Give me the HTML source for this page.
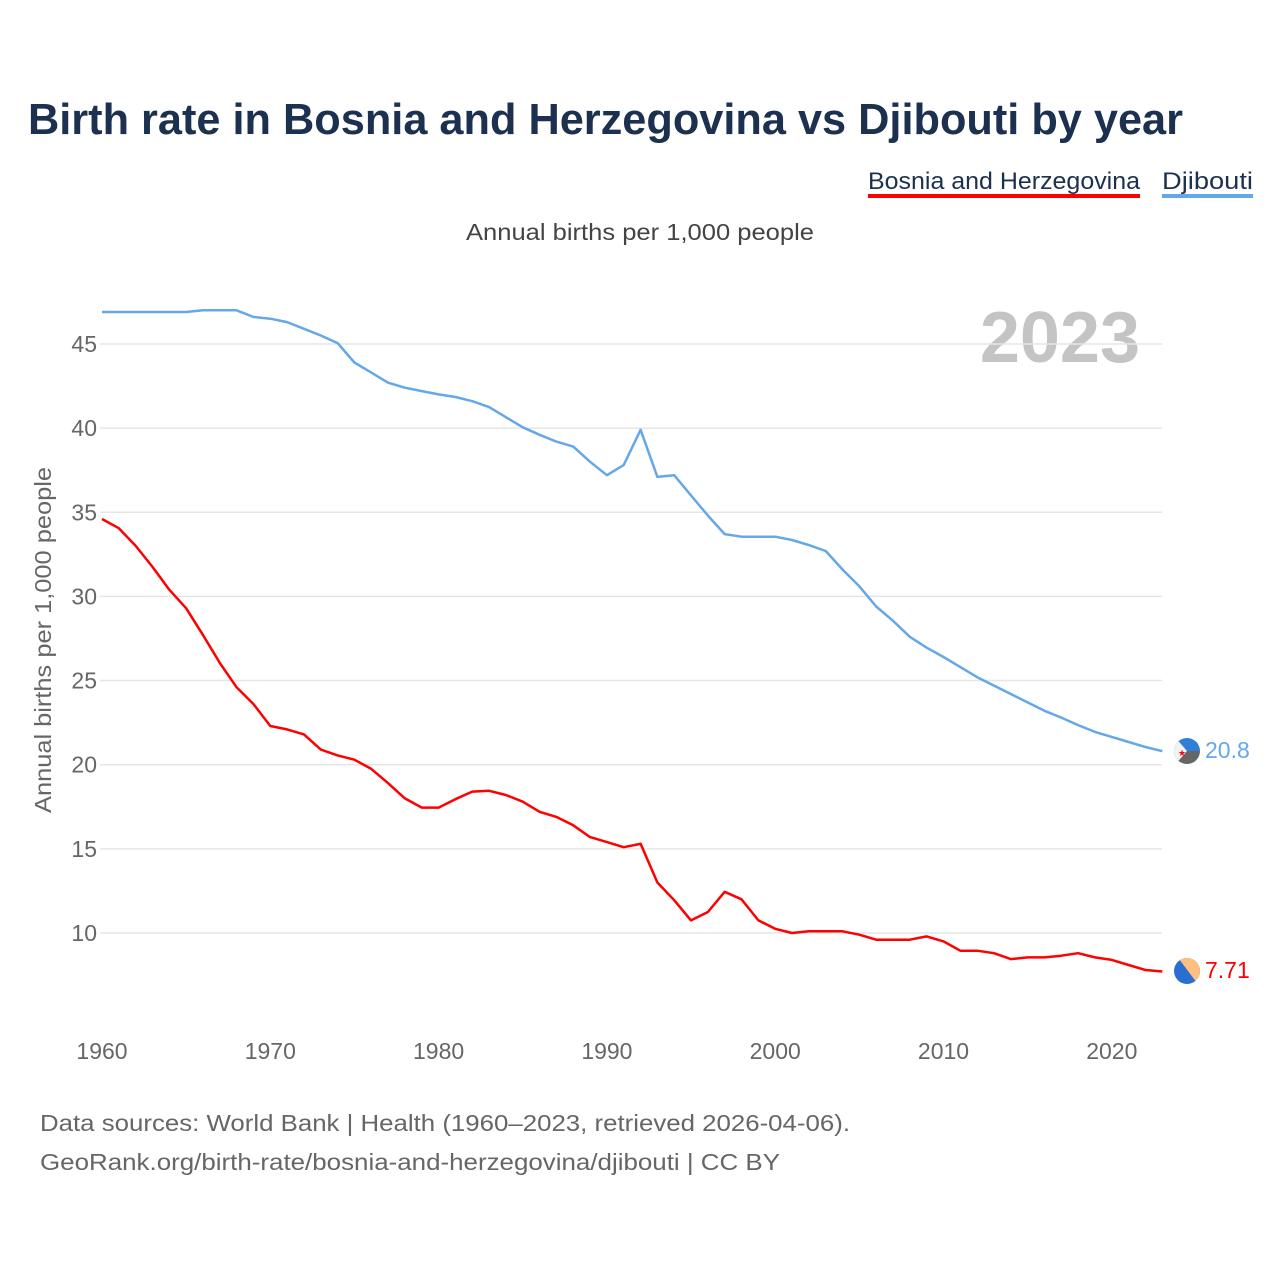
<!DOCTYPE html>
<html><head><meta charset="utf-8"><style>
html,body{margin:0;padding:0;background:#fff;}
svg{display:block;font-family:"Liberation Sans",sans-serif;}
</style></head><body>
<svg id="chart" width="1280" height="1280" viewBox="0 0 1280 1280">
<text x="28" y="134" font-size="44" font-weight="bold" fill="#1c3150" textLength="1155" lengthAdjust="spacingAndGlyphs">Birth rate in Bosnia and Herzegovina vs Djibouti by year</text>
<g>
<g>
<text x="868" y="189" font-size="24" fill="#1c3150" textLength="272" lengthAdjust="spacingAndGlyphs">Bosnia and Herzegovina</text>
<rect x="868" y="194" width="272" height="4" fill="#ff0000"/></g>
<g>
<text x="1162" y="189" font-size="24" fill="#1c3150" textLength="91" lengthAdjust="spacingAndGlyphs">Djibouti</text>
<rect x="1162" y="194" width="91" height="4" fill="#64a8e8"/></g>
</g>
<text x="466" y="240" font-size="23" fill="#444" textLength="348" lengthAdjust="spacingAndGlyphs">Annual births per 1,000 people</text>
<text x="1140" y="362" font-size="72" font-weight="bold" fill="#c4c4c4" text-anchor="end">2023</text>
<text transform="translate(51,640) rotate(-90)" font-size="23" fill="#666" text-anchor="middle" textLength="346" lengthAdjust="spacingAndGlyphs">Annual births per 1,000 people</text>
<g id="grid"></g><g id="yticks"></g><g id="xticks"></g><g id="lines"></g>
<g>
<clipPath id="cd"><circle cx="1187" cy="751" r="13"/></clipPath>
<g clip-path="url(#cd)"><rect x="1170" y="735" width="40" height="16" fill="#2f7fd8"/><rect x="1170" y="751" width="40" height="16" fill="#666"/><polygon points="1174,736 1187,751 1174,766" fill="#f2f2f2"/></g>
<text x="1178" y="756" font-size="9" fill="red">★</text></g>
<text x="1205" y="758" font-size="23" fill="#64a8e8">20.8</text>
<g>
<clipPath id="cb"><circle cx="1187" cy="971" r="13"/></clipPath>
<g clip-path="url(#cb)"><rect x="1170" y="955" width="40" height="32" fill="#2a6fd0"/><polygon points="1176,955 1200,955 1200,987" fill="#ffbf80"/></g></g>
<text x="1205" y="978" font-size="23" fill="#ff0000">7.71</text>
<text x="40" y="1131" font-size="23" fill="#666" textLength="810" lengthAdjust="spacingAndGlyphs">Data sources: World Bank | Health (1960–2023, retrieved 2026-04-06).</text>
<text x="40" y="1170" font-size="23" fill="#666" textLength="740" lengthAdjust="spacingAndGlyphs">GeoRank.org/birth-rate/bosnia-and-herzegovina/djibouti | CC BY</text>
</svg>
<script>
const years=[];for(let y=1960;y<=2023;y++)years.push(y);
const djibouti=[46.9,46.9,46.9,46.9,46.9,46.9,47.0,47.0,47.0,46.6,46.5,46.3,45.9,45.5,45.05,43.9,43.3,42.7,42.4,42.2,42.0,41.85,41.6,41.25,40.65,40.05,39.6,39.2,38.9,38.0,37.2,37.8,39.9,37.1,37.2,36.0,34.8,33.7,33.55,33.55,33.55,33.35,33.05,32.7,31.6,30.6,29.4,28.55,27.6,26.95,26.4,25.8,25.2,24.7,24.2,23.7,23.2,22.8,22.35,21.95,21.65,21.35,21.05,20.8];
const bosnia=[34.6,34.05,33.0,31.75,30.4,29.3,27.7,26.05,24.6,23.6,22.3,22.1,21.8,20.9,20.55,20.3,19.75,18.9,18.0,17.45,17.45,17.95,18.4,18.45,18.2,17.8,17.2,16.9,16.4,15.7,15.4,15.1,15.3,13.0,11.95,10.75,11.25,12.45,12.0,10.75,10.25,10.0,10.1,10.1,10.1,9.9,9.6,9.6,9.6,9.8,9.5,8.95,8.95,8.8,8.45,8.55,8.55,8.65,8.8,8.55,8.4,8.1,7.8,7.71];
const yTicks=[10,15,20,25,30,35,40,45];
const xTicks=[1960,1970,1980,1990,2000,2010,2020];
const NS='http://www.w3.org/2000/svg';
const xs=y=>102+(y-1960)*16.83;
const ys=v=>933-(v-10)*16.83;
function mk(tag,attrs,parent,txt){const e=document.createElementNS(NS,tag);for(const k in attrs)e.setAttribute(k,attrs[k]);if(txt!==undefined)e.textContent=txt;parent.appendChild(e);return e;}
const grid=document.getElementById('grid'),yt=document.getElementById('yticks'),xt=document.getElementById('xticks'),lines=document.getElementById('lines');
yTicks.forEach(v=>{
const l=mk('line',{x1:100,x2:1162,y1:ys(v),y2:ys(v),stroke:'#e6e6e6','stroke-width':1.5},grid);


const t=mk('text',{x:97,y:ys(v)+8,'font-size':23,fill:'#666','text-anchor':'end'},yt,String(v));


});
xTicks.forEach(v=>{
const t=mk('text',{x:xs(v),y:1059,'font-size':23,fill:'#666','text-anchor':'middle'},xt,String(v));


});
function drawLine(vals,color,name){
const d=vals.map((v,i)=>(i?'L':'M')+xs(years[i]).toFixed(1)+','+ys(v).toFixed(1)).join(' ');
const p=mk('path',{d:d,fill:'none',stroke:color,'stroke-width':2.5,'stroke-linejoin':'round'},lines);


}
drawLine(djibouti,'#64a8e8','djibouti-line');
drawLine(bosnia,'#ff0000','bosnia-line');
</script>
</body></html>
